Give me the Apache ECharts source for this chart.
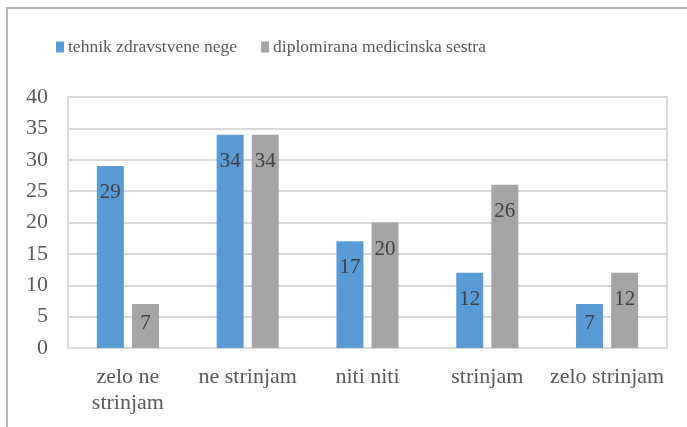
<!DOCTYPE html>
<html><head><meta charset="utf-8">
<script src="https://cdn.jsdelivr.net/npm/echarts@6/dist/echarts.min.js"></script>
<style>html,body{margin:0;padding:0;background:#fff}#c{width:687px;height:427px}</style>
</head><body><div id="c"></div>
<script>
var categories = ['zelo ne\nstrinjam', 'ne strinjam', 'niti niti', 'strinjam', 'zelo strinjam'];
var seriesNames = ['tehnik zdravstvene nege', 'diplomirana medicinska sestra'];
var tehnik = [29, 34, 17, 12, 7];
var diplomirana = [7, 34, 20, 26, 12];
var yTicks = {min: 0, max: 40, interval: 5};

var FONT = '"Liberation Serif", "DejaVu Serif", serif';
function mkData(arr) {
  return arr.map(function (v) {
    if (v < 10) return {value: v, label: {position: 'inside', offset: [0, -3]}};
    return v;
  });
}
var chart = echarts.init(document.getElementById('c'));
chart.setOption({
  animation: false,
  textStyle: {fontFamily: FONT},
  graphic: [{type: 'rect', shape: {x: 7, y: 8, width: 700, height: 440}, style: {fill: 'none', stroke: '#b4b4b4', lineWidth: 2}, silent: true}],
  legend: {
    left: 56, top: 38, padding: 0, itemWidth: 8, itemHeight: 11, itemGap: 24,
    icon: 'rect',
    textStyle: {fontFamily: FONT, fontSize: 17.5, color: '#595959', padding: [0, 0, 0, -1]},
    data: seriesNames
  },
  grid: {left: 68, top: 97, width: 599, height: 251, show: true, borderColor: '#d9d9d9', borderWidth: 2, containLabel: false},
  xAxis: {
    type: 'category', data: categories,
    axisLine: {show: true, lineStyle: {color: '#d9d9d9', width: 2}},
    axisTick: {show: false},
    axisLabel: {fontFamily: FONT, fontSize: 22, color: '#595959', margin: 16, lineHeight: 26, interval: 0}
  },
  yAxis: {
    type: 'value', min: yTicks.min, max: yTicks.max, interval: yTicks.interval,
    axisLine: {show: false}, axisTick: {show: false},
    splitLine: {lineStyle: {color: '#d9d9d9', width: 2}},
    axisLabel: {fontFamily: FONT, fontSize: 22, color: '#595959', margin: 20}
  },
  series: [
    {name: seriesNames[0], type: 'bar', data: mkData(tehnik), barWidth: 27, barGap: '30%',
     itemStyle: {color: '#5B9BD5'},
     label: {show: true, position: 'insideTop', distance: 16, fontFamily: FONT, fontSize: 21, color: '#404040'}},
    {name: seriesNames[1], type: 'bar', data: mkData(diplomirana), barWidth: 27,
     itemStyle: {color: '#A5A5A5'},
     label: {show: true, position: 'insideTop', distance: 16, fontFamily: FONT, fontSize: 21, color: '#404040'}}
  ]
});
</script></body></html>
